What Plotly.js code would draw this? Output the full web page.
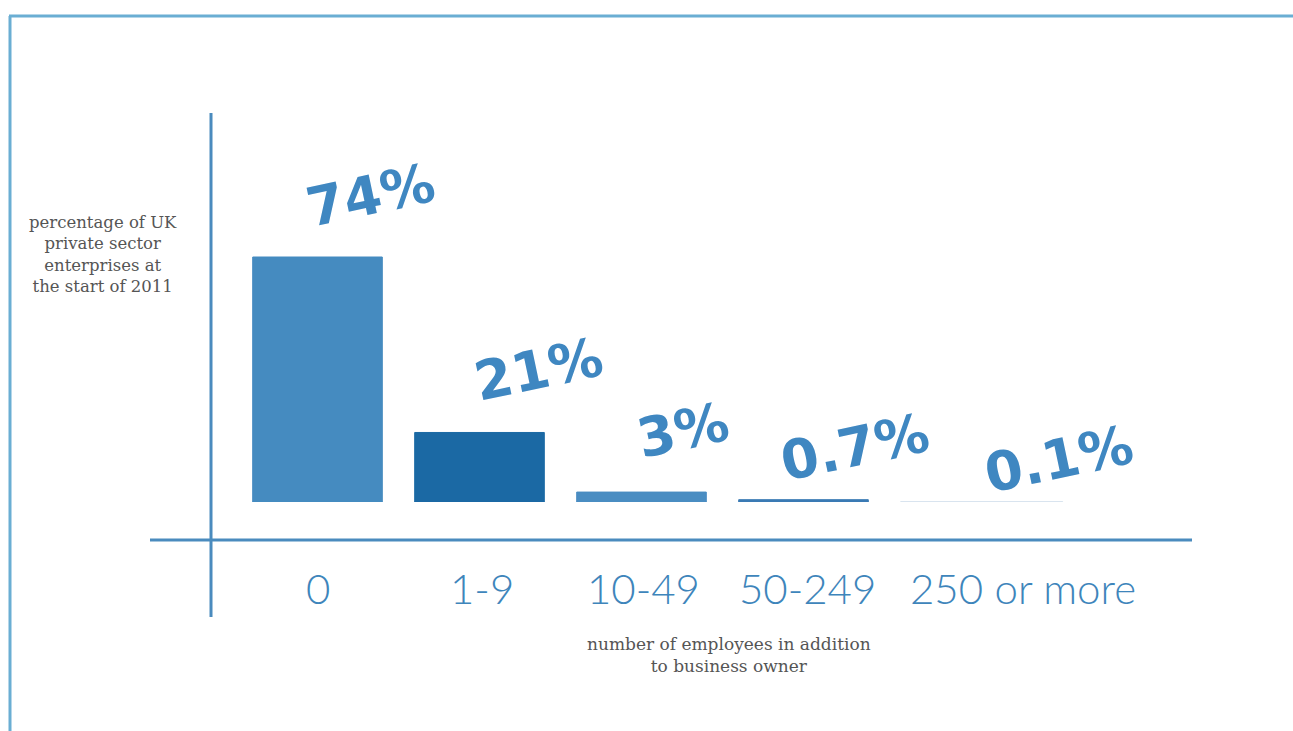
<!DOCTYPE html>
<html>
<head>
<meta charset="utf-8">
<script src="https://cdn.plot.ly/plotly-3.0.1.min.js"></script>
<style>
html,body{margin:0;padding:0;background:#fff;}
#chart{width:1293px;height:731px;}
</style>
</head>
<body>
<div id="chart"></div>
<script>
// ---- data ----
var categories = ["0", "1-9", "10-49", "50-249", "250 or more"];
var shares = [74, 21, 3, 0.7, 0.1];
var valueLabels = ["74%", "21%", "3%", "0.7%", "0.1%"];
var tickLabels = ["0", "1-9", "10-49", "50-249", "250 or more"];
var yTitleText = "percentage of UK<br>private sector<br>enterprises at<br>the start of 2011";
var xTitleText = "number of employees in addition<br>to business owner";

// ---- styling ----
var barColors = ["#458BC0", "#1B69A4", "#4A8DC2", "#3A7BB4", "#D6E3EE"];
var barWidths = [0.8, 0.8, 0.8, 0.8, 1.0];
var barOffsets = [-0.4, -0.4, -0.4, -0.4, -0.4];
var labelShiftX = [53, 59, 41, 51, 93];
var labelShiftY = [62, 63, 62, 52, 42];
var tickShiftX = [0, 2, 2, 4, 57];

var W = 1293, H = 731;
var L = 150, R = 1192, T = 113, B = 502;
var pw = R - L, ph = B - T;
function px(x) { return (x - L) / pw; }
function py(y) { return (B - y) / ph; }

var trace = {
  type: "bar",
  x: categories,
  y: shares,
  width: barWidths,
  offset: barOffsets,
  marker: { color: barColors, line: { color: barColors, width: 1 } },
  hoverinfo: "skip"
};

var annotations = [];
for (var i = 0; i < categories.length; i++) {
  annotations.push({
    x: categories[i], y: shares[i], xref: "x", yref: "y",
    text: valueLabels[i], showarrow: false, textangle: -12,
    xanchor: "center", yanchor: "middle",
    xshift: labelShiftX[i], yshift: labelShiftY[i],
    font: { family: "'DejaVu Sans', sans-serif", size: 54, weight: "bold", color: "#3F87C1" }
  });
  annotations.push({
    x: categories[i], y: py(588), xref: "x", yref: "paper",
    text: tickLabels[i], showarrow: false,
    xanchor: "center", yanchor: "middle", xshift: tickShiftX[i],
    font: { family: "Lato, 'Open Sans', sans-serif", size: 42, weight: 300, color: "#3E85BB" }
  });
}
annotations.push({
  x: px(103), y: py(254), xref: "paper", yref: "paper",
  text: yTitleText, showarrow: false, align: "center",
  xanchor: "center", yanchor: "middle",
  font: { family: "'DejaVu Serif', serif", size: 16.5, color: "#555" }
});
annotations.push({
  x: px(729), y: py(655), xref: "paper", yref: "paper",
  text: xTitleText, showarrow: false, align: "center",
  xanchor: "center", yanchor: "middle",
  font: { family: "'DejaVu Serif', serif", size: 17, color: "#555" }
});

var frameColor = "#6AAED3";
var axisColor = "#4A8BBE";
var shapes = [
  { type: "line", xref: "paper", yref: "paper", x0: px(10), x1: px(10), y0: py(16), y1: py(740), line: { color: frameColor, width: 3 } },
  { type: "line", xref: "paper", yref: "paper", x0: px(9), x1: px(1300), y0: py(16), y1: py(16), line: { color: frameColor, width: 3 } },
  { type: "line", xref: "paper", yref: "paper", x0: px(211), x1: px(211), y0: py(113), y1: py(617), line: { color: axisColor, width: 3 } },
  { type: "line", xref: "paper", yref: "paper", x0: px(150), x1: px(1192), y0: py(540), y1: py(540), line: { color: axisColor, width: 3 } }
];

var x0pix = 317.5, step = 162;
var layout = {
  width: W, height: H,
  margin: { l: L, r: W - R, t: T, b: H - B, pad: 0 },
  paper_bgcolor: "#ffffff", plot_bgcolor: "#ffffff",
  showlegend: false,
  xaxis: {
    type: "category", range: [(L - x0pix) / step, (R - x0pix) / step],
    showticklabels: false, showgrid: false, zeroline: false, showline: false, ticks: ""
  },
  yaxis: {
    range: [0, 74 / ((B - 257) / ph)],
    showticklabels: false, showgrid: false, zeroline: false, showline: false, ticks: ""
  },
  annotations: annotations,
  shapes: shapes,
  hovermode: false
};

Plotly.newPlot("chart", [trace], layout, { displayModeBar: false, staticPlot: true });
</script>
</body>
</html>
